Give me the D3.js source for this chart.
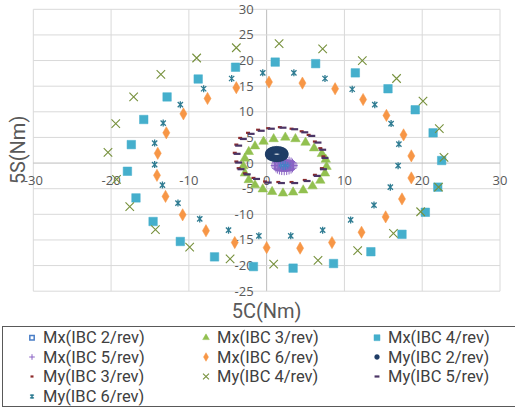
<!DOCTYPE html>
<html lang="en">
<head>
<meta charset="utf-8">
<title>5C / 5S</title>
<script src="https://d3js.org/d3.v7.min.js"></script>
<style>
  body { margin: 0; background: #fff; }
  svg text { font-family: "Open Sans", sans-serif; }
  .legend text, .title { font-family: Roboto, sans-serif; }
</style>
</head>
<body>
<div id="chart"></div>
<script>
const width = 515;
const height = 409;

// tick labels
const xTicks = [-30, -20, -10, 0, 10, 20, 30];
const yTicks = [-25, -20, -15, -10, -5, 0, 5, 10, 15, 20, 25, 30];

// series values, [5C, 5S] in Nm
const mx2 = [[2.35,-0.12],[2.58,-0.2],[2.7,-0.37],[2.7,-0.57],[2.58,-0.74],[2.35,-0.82],[2.12,-0.74],[2.0,-0.57],[2.0,-0.37],[2.12,-0.2]];
const mx3 = [[0.9,4.7],[2.4,5.0],[3.7,4.7],[5.0,4.0],[6.1,2.9],[7.1,1.8],[7.6,0.7],[7.7,-0.7],[7.5,-2.0],[6.9,-3.4],[5.9,-4.5],[4.7,-5.3],
             [3.4,-5.7],[2.1,-5.9],[0.7,-5.6],[-0.5,-5.1],[-1.5,-4.3],[-2.3,-3.3],[-2.8,-2.0],[-3.0,-0.6],[-2.8,0.9],[-2.3,2.2],[-1.5,3.3],[-0.4,4.2]];
const mx4 = [[1.1,19.7],[6.3,19.4],[11.4,17.6],[15.6,14.5],[19.1,10.4],[21.4,5.9],[22.5,0.5],[22.0,-4.7],[20.4,-9.6],[17.4,-13.9],[13.4,-17.3],[8.6,-19.6],
             [3.4,-20.5],[-1.7,-20.2],[-6.7,-18.3],[-11.1,-15.3],[-14.6,-11.4],[-16.8,-6.8],[-17.9,-1.6],[-17.4,3.6],[-15.8,8.5],[-12.8,12.9],[-8.8,16.4],[-4.0,18.7]];
const mx5 = [[2.26,0.64],[2.58,0.6],[2.88,0.48],[3.14,0.3],[3.32,0.07],[3.44,-0.19],[3.48,-0.47],[3.44,-0.75],[3.32,-1.03],[3.14,-1.27],[2.88,-1.45],[2.58,-1.56],
             [2.26,-1.6],[1.94,-1.56],[1.64,-1.45],[1.38,-1.27],[1.2,-1.03],[1.08,-0.75],[1.04,-0.47],[1.08,-0.19],[1.2,0.07],[1.38,0.3],[1.64,0.48],[1.94,0.6]];
const mx6 = [[0.3,15.8],[4.6,15.6],[8.8,14.5],[12.4,12.4],[15.4,9.3],[17.6,5.5],[18.6,1.4],[18.6,-2.9],[17.4,-7.0],[15.3,-10.5],[12.2,-13.5],[8.4,-15.5],
             [4.3,-16.6],[0.0,-16.5],[-4.1,-15.5],[-7.8,-13.2],[-10.8,-10.1],[-13.0,-6.5],[-14.1,-2.4],[-14.0,1.9],[-12.9,5.9],[-10.7,9.6],[-7.6,12.6],[-3.9,14.7]];
const my2 = [[1.30,2.6],[1.82,2.48],[2.2,2.17],[2.34,1.75],[2.2,1.33],[1.82,1.02],[1.30,0.9],[0.78,1.02],[0.4,1.33],[0.26,1.75],[0.4,2.17],[0.78,2.48],
             [1.57,2.57],[2.04,2.33],[2.3,1.96],[2.3,1.54],[2.04,1.17],[1.57,0.93],[1.03,0.93],[0.56,1.17],[0.3,1.54],[0.3,1.96],[0.56,2.33],[1.03,2.57]];
const my3 = [[0.2,6.8],[1.7,7.0],[3.2,6.7],[4.5,6.2],[5.4,5.5],[6.2,4.2],[6.9,2.9],[7.3,1.3],[7.1,-1.0],[6.2,-2.3],[4.9,-3.3],[3.2,-3.7],
             [1.5,-3.7],[-0.2,-3.6],[-1.7,-2.9],[-2.8,-2.0],[-3.6,-1.0],[-3.9,0.3],[-4.1,2.0],[-3.9,3.6],[-3.4,4.9],[-2.4,5.9],[-1.1,6.5]];
const my4 = [[1.6,23.3],[7.2,22.3],[12.3,20.0],[16.7,16.5],[20.1,12.1],[22.2,6.7],[22.8,1.1],[22.1,-4.7],[19.8,-9.5],[16.3,-13.7],[11.7,-17.1],[6.6,-19.0],
             [0.9,-19.7],[-4.7,-18.7],[-9.9,-16.4],[-14.3,-13.0],[-17.6,-8.5],[-19.3,-3.2],[-20.4,2.1],[-19.4,7.7],[-17.1,12.9],[-13.6,17.3],[-9.0,20.5],[-3.9,22.5]];
const my5 = [[0.6,6.7],[2.1,6.9],[3.6,6.6],[4.9,6.0],[5.8,5.3],[6.6,4.0],[7.2,2.6],[7.5,1.0],[7.3,-1.2],[6.5,-2.5],[5.2,-3.5],[3.6,-3.9],
             [1.9,-3.9],[0.2,-3.8],[-1.3,-3.1],[-2.5,-2.2],[-3.3,-1.2],[-3.6,0.1],[-3.8,1.8],[-3.6,3.4],[-3.0,4.7],[-2.0,5.7],[-0.7,6.3]];
const my6 = [[-0.5,17.6],[3.5,17.6],[7.5,16.5],[11.0,14.4],[13.9,11.4],[16.0,7.7],[17.0,3.7],[16.9,-0.5],[15.9,-4.7],[13.8,-8.2],[10.8,-11.1],[7.2,-13.1],
             [3.1,-14.2],[-1.0,-14.2],[-4.9,-13.1],[-8.6,-10.9],[-11.4,-7.8],[-13.4,-4.3],[-14.4,-0.3],[-14.4,3.9],[-13.3,7.8],[-11.1,11.4],[-8.1,14.5],[-4.5,16.5]];

const seriesNames = ["Mx(IBC 2/rev)", "Mx(IBC 3/rev)", "Mx(IBC 4/rev)", "Mx(IBC 5/rev)", "Mx(IBC 6/rev)",
                     "My(IBC 2/rev)", "My(IBC 3/rev)", "My(IBC 4/rev)", "My(IBC 5/rev)", "My(IBC 6/rev)"];
const seriesData = [mx2, mx3, mx4, mx5, mx6, my2, my3, my4, my5, my6];

// marker styles
const styles = [
  {shape: "square",   size: 7, color: "#4a7ec6", hollow: true},
  {shape: "triangle", size: 9, color: "#92c050"},
  {shape: "square",   size: 8.5, color: "#45afcc"},
  {shape: "plus",     size: 8, color: "#8a63c4"},
  {shape: "diamond",  size: 8.5, color: "#f79646"},
  {shape: "circle",   size: 7, color: "#1f3d66"},
  {shape: "dash",     size: 4, color: "#8e2a2a"},
  {shape: "x",        size: 8.5, color: "#77913d"},
  {shape: "dash",     size: 7, color: "#4b3566"},
  {shape: "star",     size: 7, color: "#2f7c92"}
];

const svg = d3.select("#chart").append("svg")
  .attr("width", width)
  .attr("height", height);

const xScale = d3.scaleLinear().domain([-30, 30]).range([33.3, 500]);
const yScale = d3.scaleLinear().domain([-25, 30]).range([291.2, 9.3]);

// gridlines
const grid = svg.append("g").attr("class", "grid");
grid.selectAll("line.v").data(xTicks).enter().append("line")
  .attr("x1", d => xScale(d)).attr("x2", d => xScale(d))
  .attr("y1", yScale(30)).attr("y2", yScale(-25))
  .attr("stroke", d => d === 0 ? "#bcbcbc" : "#d9d9d9")
  .attr("stroke-width", 1);
grid.selectAll("line.h").data(yTicks).enter().append("line")
  .attr("y1", d => yScale(d)).attr("y2", d => yScale(d))
  .attr("x1", xScale(-30)).attr("x2", xScale(30))
  .attr("stroke", d => d === 0 ? "#bcbcbc" : "#d9d9d9")
  .attr("stroke-width", 1);

// tick labels sit beside the axes that cross at 0
svg.append("g").selectAll("text").data(yTicks).enter().append("text")
  .attr("x", xScale(0) - 13)
  .attr("y", d => yScale(d))
  .attr("dy", "0.35em")
  .attr("text-anchor", "end")
  .attr("font-size", 13)
  .attr("fill", "#595959")
  .text(d => d);

svg.append("g").selectAll("text").data(xTicks).enter().append("text")
  .attr("x", d => xScale(d))
  .attr("y", yScale(0) + 17)
  .attr("dy", "0.35em")
  .attr("text-anchor", "middle")
  .attr("font-size", 13)
  .attr("fill", "#595959")
  .text(d => d);

// axis titles
svg.append("text")
  .attr("class", "title")
  .attr("x", xScale(0))
  .attr("y", 311)
  .attr("dy", "0.35em")
  .attr("text-anchor", "middle")
  .attr("font-size", 20)
  .attr("fill", "#595959")
  .text("5C(Nm)");

svg.append("text")
  .attr("class", "title")
  .attr("transform", "translate(18,150) rotate(-90)")
  .attr("dy", "0.35em")
  .attr("text-anchor", "middle")
  .attr("font-size", 20)
  .attr("fill", "#595959")
  .text("5S(Nm)");

function drawMarker(sel, st) {
  const s = st.size;
  const h = s / 2;
  if (st.shape === "square" || st.shape === "triangle" || st.shape === "diamond" || st.shape === "circle") {
    let type = d3.symbolSquare, area = s * s;
    if (st.shape === "triangle") { type = d3.symbolTriangle; area = s * s * 0.48; }
    if (st.shape === "diamond") { type = d3.symbolDiamond; area = s * s * 0.6; }
    if (st.shape === "circle") { type = d3.symbolCircle; area = Math.PI * h * h; }
    sel.append("path")
      .attr("d", d3.symbol().type(type).size(st.hollow ? area * 0.8 : area)())
      .attr("fill", st.hollow ? "none" : st.color)
      .attr("stroke", st.color)
      .attr("stroke-width", st.hollow ? 1.5 : 0.5);
  } else if (st.shape === "plus") {
    sel.append("path").attr("d", `M${-h},0H${h}M0,${-h}V${h}`)
      .attr("stroke", st.color).attr("stroke-width", 1);
  } else if (st.shape === "x") {
    sel.append("path").attr("d", `M${-h},${-h}L${h},${h}M${-h},${h}L${h},${-h}`)
      .attr("stroke", st.color).attr("stroke-width", 1.1);
  } else if (st.shape === "dash") {
    sel.append("path").attr("d", `M${-h},0H${h}`)
      .attr("stroke", st.color).attr("stroke-width", 2.2);
  } else if (st.shape === "star") {
    const k = h * 0.75;
    sel.append("path").attr("d", `M${-k},${-k}L${k},${k}M${-k},${k}L${k},${-k}M0,${-h}V${h}`)
      .attr("stroke", st.color).attr("stroke-width", 1.3);
  }
}

// points
const plot = svg.append("g").attr("class", "points");
seriesData.forEach((data, i) => {
  plot.append("g").selectAll("g").data(data).enter().append("g")
    .attr("transform", d => `translate(${xScale(d[0])},${yScale(d[1])})`)
    .each(function() { drawMarker(d3.select(this), styles[i]); });
});

// legend
const legend = svg.append("g").attr("class", "legend");
legend.append("rect")
  .attr("x", 2.5).attr("y", 326.5)
  .attr("width", 530).attr("height", 80)
  .attr("fill", "none").attr("stroke", "#595959").attr("stroke-width", 1);

const legendColX = [32, 206, 377];
const legendRowY = [337.7, 357, 376.5, 396.5];
seriesNames.forEach((name, i) => {
  const col = i % 3, row = Math.floor(i / 3);
  const item = legend.append("g")
    .attr("transform", `translate(${legendColX[col]},${legendRowY[row]})`);
  const st = Object.assign({}, styles[i]);
  st.size = Math.max(3, st.size * 0.7);
  drawMarker(item.append("g"), st);
  item.append("text")
    .attr("x", 11)
    .attr("dy", "0.35em")
    .attr("font-size", 16.5)
    .attr("fill", "#404040")
    .text(name);
});
</script>
</body>
</html>
